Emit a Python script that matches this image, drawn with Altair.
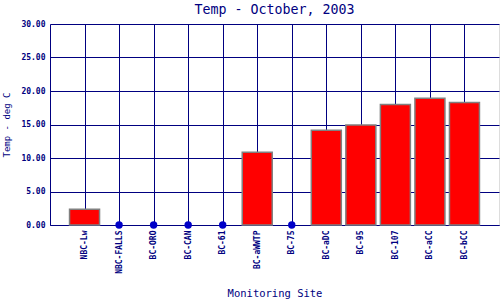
import altair as alt
import pandas as pd

sites = ["NBC-Lw", "NBC-FALLS", "BC-ORO", "BC-CAN", "BC-61", "BC-aWWTP",
         "BC-75", "BC-aDC", "BC-95", "BC-107", "BC-aCC", "BC-bCC"]
temps = [2.35, 0.0, 0.0, 0.0, 0.0, 10.85, 0.0, 14.13, 14.93, 18.0, 18.9, 18.3]

df = pd.DataFrame({"site": sites, "temp": temps})

NAVY = "#000080"
MONO = "DejaVu Sans Mono"

x = alt.X("site:N", sort=sites, scale=alt.Scale(type="point", padding=1),
          axis=alt.Axis(title="Monitoring Site", labelAngle=-90, labelAlign="right",
                        labelBaseline="middle", labelFont=MONO, labelFontSize=8,
                        labelFontWeight="bold", labelColor=NAVY, labelPadding=5,
                        ticks=False, domain=True, domainColor=NAVY, grid=True,
                        gridColor=NAVY, gridOpacity=1, titleFont=MONO,
                        titleFontSize=10.5, titleFontWeight="normal", titleColor=NAVY,
                        titlePadding=15))
y = alt.Y("temp:Q", scale=alt.Scale(domain=[0, 30], nice=False),
          axis=alt.Axis(title="Temp - deg C", values=[0, 5, 10, 15, 20, 25, 30],
                        format=".2f", labelFont=MONO, labelFontSize=8,
                        labelFontWeight="bold", labelColor=NAVY, labelPadding=5,
                        ticks=False, domainColor=NAVY, grid=True, gridColor=NAVY,
                        gridOpacity=1, titleFont=MONO, titleFontSize=9,
                        titleFontWeight="normal", titleColor=NAVY, titlePadding=9))

bars = alt.Chart(df).transform_filter("datum.temp > 0").mark_bar(
    color="#ff0000", stroke="#808080", strokeWidth=1.5, size=30
).encode(x=x, y=y)

dots = alt.Chart(df).transform_filter("datum.temp == 0").mark_circle(
    color="#0000c8", size=55, opacity=1
).encode(x=x, y=y)

chart = alt.layer(bars, dots).properties(
    width=449, height=201,
    title=alt.TitleParams("Temp - October, 2003", font=MONO, fontSize=13.3,
                          fontWeight="normal", color=NAVY, offset=4),
    autosize=alt.AutoSizeParams(type="none"),
    padding={"left": 50, "top": 24, "right": 1, "bottom": 75},
).configure_view(stroke=NAVY, strokeWidth=1).configure(background="white")

chart.save("out.html", embed_options={"renderer": "svg", "actions": False})
